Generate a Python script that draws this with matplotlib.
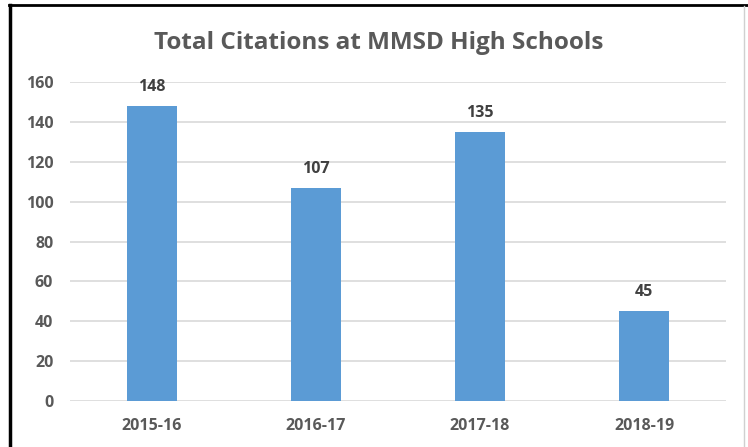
import matplotlib.pyplot as plt
from matplotlib.lines import Line2D

# data
years = ['2015-16', '2016-17', '2017-18', '2018-19']
citations = [148, 107, 135, 45]
yticks = [0, 20, 40, 60, 80, 100, 120, 140, 160]

W, H = 748, 447
fig = plt.figure(figsize=(W / 100, H / 100), dpi=100)
plt.rcParams['font.family'] = ['Open Sans', 'DejaVu Sans']

# axes in pixel positions: left 70, right 726, y0 at 401, y160 at 82
ax = fig.add_axes([70 / W, (H - 401) / H, (726 - 70) / W, (401 - 82) / H])

x = range(len(years))
ax.bar(x, citations, width=0.31, color='#5B9BD5', zorder=3)

for xi, v in zip(x, citations):
    ax.text(xi, v + 5.5, str(v), ha='center', va='bottom',
            fontsize=11.5, fontweight='bold', color='#404040')

ax.set_xlim(-0.5, len(years) - 0.5)
ax.set_ylim(0, 160)
ax.set_yticks(yticks)
ax.set_xticks(list(x))
ax.set_xticklabels(years)
ax.yaxis.grid(True, color='#D9D9D9', lw=1.2, zorder=0)
ax.tick_params(axis='y', length=0, labelsize=11.5, labelcolor='#595959', pad=12)
ax.tick_params(axis='x', length=0, labelsize=11.5, labelcolor='#595959', pad=12)
for lab in ax.get_xticklabels() + ax.get_yticklabels():
    lab.set_fontweight('bold')
for s in ax.spines.values():
    s.set_visible(False)

fig.text(379 / W, 1 - 43 / H, 'Total Citations at MMSD High Schools',
         ha='center', va='center', fontsize=17.5, fontweight='bold',
         color='#595959')

# outer frame lines as seen in the screenshot
fig.add_artist(Line2D([9 / W, 1], [1 - 5 / H, 1 - 5 / H], color='black', lw=2))
fig.add_artist(Line2D([10 / W, 10 / W], [0, 1 - 5 / H], color='black', lw=2.5))
fig.add_artist(Line2D([744 / W, 744 / W], [0, 1 - 6 / H], color='#D0D0D0', lw=1))

plt.savefig('out.png', dpi=100)
